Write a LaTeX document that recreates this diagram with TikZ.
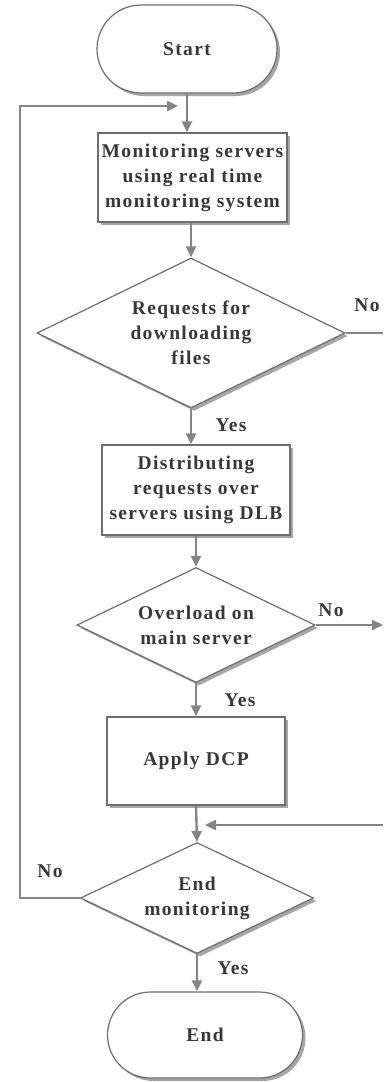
\documentclass[tikz,border=0pt]{standalone}
\usepackage{fontspec}
\setmainfont{Liberation Serif}[LetterSpace=7]
\usetikzlibrary{shapes.geometric,shapes.misc,shadows,arrows.meta}
\definecolor{linegray}{HTML}{858585}
\definecolor{bordergray}{HTML}{6E6E6E}
\definecolor{textgray}{HTML}{383838}
\tikzset{
  base/.style={draw=bordergray, line width=1.2pt, fill=white, text=textgray, align=center,
    font=\fontsize{19.5}{25}\selectfont\bfseries, inner sep=0pt,
    drop shadow={shadow xshift=3pt, shadow yshift=-3pt, fill=black, opacity=0.35}},
  term/.style={base, rounded rectangle},
  procbox/.style={base, rectangle},
  decision/.style={base, diamond, aspect=2.07},
  conn/.style={draw=linegray, line width=2.4pt, -{Triangle[length=11pt,width=10pt]}},
  plain/.style={draw=linegray, line width=2.4pt},
  lbl/.style={text=textgray, font=\fontsize{19.5}{20}\selectfont\bfseries}
}
\begin{document}
\begin{tikzpicture}[x=1pt,y=-1pt]
\useasboundingbox (0,0) rectangle (383,1082);
\node[term, minimum width=180pt, minimum height=88pt] (start) at (187,49) {Start};
\node[procbox, minimum width=189pt, minimum height=89pt] (box1) at (192.5,177.5) {Monitoring servers\\using real time\\monitoring system};
\node[decision, minimum width=308pt, minimum height=150pt] (d1) at (191,333) {Requests for\\downloading\\files};
\node[procbox, minimum width=188pt, minimum height=90pt] (box2) at (196,490) {Distributing\\requests over\\servers using DLB};
\node[decision, minimum width=238pt, minimum height=115pt] (d2) at (196,625) {Overload on\\main server};
\node[procbox, minimum width=178pt, minimum height=88pt] (box3) at (196,761) {Apply DCP};
\node[decision, minimum width=233pt, minimum height=111pt] (d3) at (197,898) {End\\monitoring};
\node[term, minimum width=195pt, minimum height=86pt] (end) at (205,1035) {End};

\coordinate (loopin) at (178,106);
\coordinate (loopleft) at (20,898);
\coordinate (d1out) at (383,333);
\coordinate (d2out) at (383,625);
\coordinate (retin) at (383,825);
\coordinate (retend) at (205,825);

\path[conn] (start.south) -- (start.south |- box1.north);
\path[conn] (box1.south -| d1.north) -- (d1.north);
\path[conn] (d1.south) -- (d1.south |- box2.north);
\path[conn] (box2.south) -- (d2.north);
\path[conn] (d2.south) -- (box3.north);
\path[conn] (box3.south) -- (d3.north);
\path[conn] (d3.south) -- (d3.south |- end.north);
\path[plain] (d1.east) -- (d1out);
\path[conn] (d2.east) -- (d2out);
\path[conn] (retin) -- (retend);
\path[conn] (d3.west) -- (loopleft) -- (loopleft |- loopin) -- (loopin);

\node[lbl] (no1) at (367,305) {No};
\node[lbl] (yes1) at (231,425) {Yes};
\node[lbl] (no2) at (331,610) {No};
\node[lbl] (yes2) at (240,700) {Yes};
\node[lbl] (no3) at (50,871) {No};
\node[lbl] (yes3) at (233,968) {Yes};
\end{tikzpicture}
\end{document}
